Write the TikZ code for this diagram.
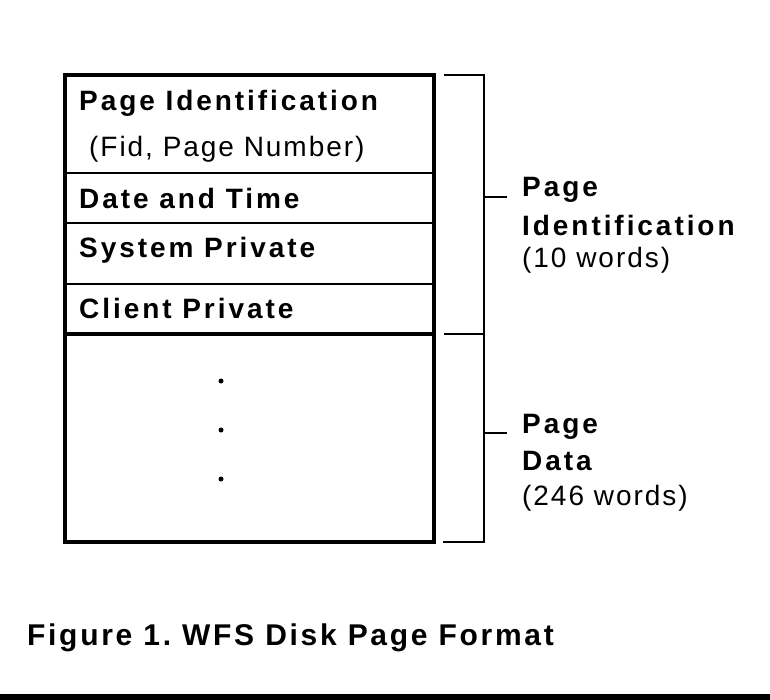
\documentclass[tikz,border=0pt]{standalone}
\usepackage{fontspec}
\setmainfont{Liberation Sans}
\newfontfamily\lblfont{Liberation Sans}[LetterSpace=10.5]
\newfontfamily\regfont{Liberation Sans}[LetterSpace=7]
\newfontfamily\capfont{Liberation Sans}[LetterSpace=9]
\begin{document}
\frenchspacing
\begin{tikzpicture}[x=1pt,y=-1pt,
  lbl/.style={anchor=base west,inner sep=0pt,font=\lblfont\bfseries\fontsize{28}{32}\selectfont},
  reg/.style={anchor=base west,inner sep=0pt,font=\regfont\fontsize{28}{32}\selectfont},
  captext/.style={anchor=base west,inner sep=0pt,font=\capfont\bfseries\fontsize{30}{34}\selectfont},
  outer/.style={line width=4pt},
  brk/.style={line width=2pt}]
\useasboundingbox (0,0) rectangle (770,700);
% page box
\coordinate (tl) at (65,75);
\coordinate (br) at (434,542);
\draw[outer] (tl) rectangle (br);
\foreach \yy/\w in {173/2.2,223/2.2,284/2.2,334/3.2}{
  \draw[line width=\w pt] (65,\yy) -- (434,\yy);
}
% texts inside
\node[lbl] (t1) at (79,111) {Page Identification};
\node[reg] (t2) at (89,157) {(Fid, Page Number)};
\node[lbl] (t3) at (79,209) {Date and Time};
\node[lbl] (t4) at (79,258) {System Private};
\node[lbl] (t5) at (79,318) {Client Private};
% dots
\foreach \yy in {381,430,479}{ \fill (221,\yy) circle (2.5); }
% brackets
\coordinate (b1) at (444,75);
\coordinate (b2) at (484,75);
\coordinate (b3) at (484,334);
\coordinate (b4) at (444,334);
\coordinate (b5) at (484,542);
\coordinate (b6) at (443,542);
\draw[brk] (b1) -- (b2) -- (b5) -- (b6);
\draw[brk] (b4) -- (b3);
\coordinate (k1a) at (484,197);
\coordinate (k1b) at (507,197);
\coordinate (k2a) at (484,433);
\coordinate (k2b) at (507,433);
\draw[brk] (k1a) -- (k1b);
\draw[brk] (k2a) -- (k2b);
% right labels
\node[lbl] (r1) at (522,197) {Page};
\node[lbl] (r2) at (522,236) {Identification};
\node[reg] (r3) at (522,268) {(10 words)};
\node[lbl] (r4) at (522,433) {Page};
\node[lbl] (r5) at (522,470) {Data};
\node[reg] (r6) at (522,505) {(246 words)};
% caption
\node[captext] (capt) at (27,645) {Figure 1. WFS Disk Page Format};
\fill (0,694) rectangle (770,700);
\end{tikzpicture}
\end{document}
